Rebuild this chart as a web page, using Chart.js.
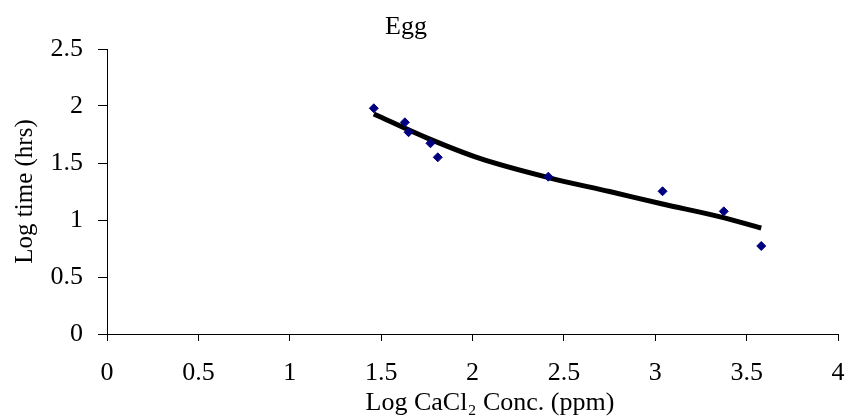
<!DOCTYPE html>
<html>
<head>
<meta charset="utf-8">
<script src="https://cdn.jsdelivr.net/npm/chart.js@4"></script>
<style>
  html, body { margin: 0; padding: 0; background: #fff; }
  #wrap { width: 849px; height: 416px; }
</style>
</head>
<body>
<div id="wrap"><canvas id="eggChart" width="849" height="416"></canvas></div>
<script>
// observed points (log conc vs log time)
const concX = [1.46, 1.63, 1.65, 1.77, 1.81, 2.415, 3.04, 3.375, 3.58];
const timeY = [1.98, 1.857, 1.77, 1.673, 1.55, 1.38, 1.252, 1.076, 0.772];

// trend line
const trendX = [1.46, 1.75, 2.04, 2.42, 2.75, 3.04, 3.35, 3.58];
const trendY = [1.93, 1.72, 1.54, 1.37, 1.25, 1.14, 1.03, 0.93];

const xTicks = [0, 0.5, 1, 1.5, 2, 2.5, 3, 3.5, 4];
const yTicks = [0, 0.5, 1, 1.5, 2, 2.5];

const chartTitle = "Egg";
const xTitle = "Log CaCl\u2082 Conc. (ppm)";
const yTitle = "Log time (hrs)";

const FONT = "'Liberation Serif', 'Times New Roman', serif";

// chart title and x title are off-centre in the original, so draw them by hand
const titlePlugin = {
  id: "eggTitles",
  afterDraw(chart) {
    const ctx = chart.ctx;
    ctx.save();
    ctx.font = "26px " + FONT;
    ctx.fillStyle = "#000";
    ctx.textAlign = "center";
    ctx.textBaseline = "middle";
    ctx.fillText(chartTitle, 406, 27);
    ctx.textBaseline = "alphabetic";
    ctx.fillText(xTitle, 490, 410);
    ctx.restore();
  },
};

const ctx = document.getElementById("eggChart").getContext("2d");

new Chart(ctx, {
  type: "scatter",
  data: {
    datasets: [
      {
        label: "Trend",
        type: "line",
        data: trendX.map((x, i) => ({ x: x, y: trendY[i] })),
        borderColor: "#000",
        borderWidth: 5,
        pointRadius: 0,
        cubicInterpolationMode: "monotone",
        fill: false,
        order: 2,
      },
      {
        label: "Egg",
        data: concX.map((x, i) => ({ x: x, y: timeY[i] })),
        pointStyle: "rectRot",
        pointRadius: 4.5,
        backgroundColor: "#000080",
        borderColor: "#000080",
        borderWidth: 1,
        order: 1,
      },
    ],
  },
  options: {
    responsive: false,
    animation: false,
    layout: { padding: { top: 49, right: 11, left: 0, bottom: 0 } },
    plugins: {
      legend: { display: false },
      title: { display: false },
      tooltip: { enabled: false },
    },
    scales: {
      x: {
        type: "linear",
        min: 0,
        max: 4,
        afterBuildTicks: (s) => { s.ticks = xTicks.map((v) => ({ value: v })); },
        afterFit: (s) => { s.height = 82; s.paddingRight = 0; s.paddingLeft = 0; },
        grid: { drawOnChartArea: false, color: "#000", tickLength: 7, lineWidth: 1 },
        border: { color: "#000", width: 1 },
        ticks: {
          color: "#000",
          font: { family: FONT, size: 26 },
          padding: 17,
          maxRotation: 0,
          autoSkip: false,
          callback: (v) => String(v),
        },
        title: { display: false },
      },
      y: {
        type: "linear",
        min: 0,
        max: 2.5,
        afterBuildTicks: (s) => { s.ticks = yTicks.map((v) => ({ value: v })); },
        afterFit: (s) => { s.width = 107; },
        grid: { drawOnChartArea: false, color: "#000", tickLength: 9, lineWidth: 1 },
        border: { color: "#000", width: 1 },
        ticks: {
          color: "#000",
          font: { family: FONT, size: 26 },
          padding: 15,
          autoSkip: false,
          callback: (v) => String(v),
        },
        title: {
          display: true,
          text: yTitle,
          color: "#000",
          font: { family: FONT, size: 25 },
          padding: { top: 10, bottom: 0 },
        },
      },
    },
  },
  plugins: [titlePlugin],
});
</script>
</body>
</html>
